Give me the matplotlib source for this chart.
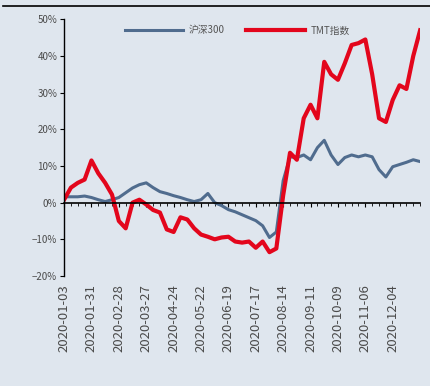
import numpy as np
import matplotlib
matplotlib.use("Agg")
import matplotlib.pyplot as plt
from matplotlib.lines import Line2D
from matplotlib.ticker import FixedLocator, MultipleLocator, PercentFormatter

plt.rcParams["font.family"] = ["Noto Sans CJK SC", "DejaVu Sans"]

# weekly cumulative returns, %
hs300 = [1.6, 1.6, 1.6, 1.8, 1.4, 0.8, 0.3, 0.8, 1.4, 2.7,
         4.0, 4.9, 5.4, 4.1, 3.0, 2.5, 1.9, 1.4, 0.8, 0.3,
         0.8, 2.5, 0.0, -0.8, -1.9, -2.5, -3.3, -4.1, -4.9, -6.3,
         -9.5, -8.0, 6.0, 12.5, 12.3, 13.0, 11.7, 15.0, 17.0, 13.0,
         10.4, 12.3, 13.0, 12.5, 13.0, 12.5, 9.0, 7.0, 9.8, 10.4,
         11.0, 11.7, 11.2]
tmt = [0.8, 4.1, 5.4, 6.3, 11.5, 8.0, 5.4, 2.2, -5.0, -7.0,
       0.0, 0.8, -0.5, -2.0, -2.7, -7.3, -8.0, -4.0, -4.6, -7.0,
       -8.7, -9.3, -10.0, -9.5, -9.3, -10.6, -10.9, -10.6, -12.3, -10.6,
       -13.5, -12.5, 2.0, 13.6, 11.7, 23.0, 26.7, 23.0, 38.4, 35.0,
       33.5, 38.0, 43.0, 43.5, 44.5, 35.0, 23.0, 22.0, 28.0, 32.0,
       31.0, 40.0, 47.0]
tick_labels = ["2020-01-03", "2020-01-31", "2020-02-28", "2020-03-27",
               "2020-04-24", "2020-05-22", "2020-06-19", "2020-07-17",
               "2020-08-14", "2020-09-11", "2020-10-09", "2020-11-06",
               "2020-12-04"]

bg = "#dfe6ee"
fig = plt.figure(figsize=(4.30, 3.86), dpi=100, facecolor=bg)
ax = fig.add_axes([0.149, 0.285, 0.828, 0.665], facecolor=bg)

x = np.arange(len(tmt))
ax.plot(x, hs300, color="#506c8e", lw=2.2, label="沪深300")
ax.plot(x, tmt, color="#e3061c", lw=3.0, label="TMT指数")

ax.set_xlim(0, len(tmt) - 1)
ax.set_ylim(-20, 50)

ax.spines["top"].set_visible(False)
ax.spines["right"].set_visible(False)
ax.spines["bottom"].set_position(("data", 0))
ax.spines["bottom"].set_linewidth(1.2)
ax.spines["left"].set_linewidth(1.0)

ax.yaxis.set_major_locator(MultipleLocator(10))
ax.yaxis.set_major_formatter(PercentFormatter(decimals=0))
ax.tick_params(axis="y", direction="out", length=3, labelsize=7,
               labelcolor="#4a4a4a", pad=2)

# one label every four weeks
ax.xaxis.set_major_locator(FixedLocator(x[:len(tick_labels) * 4:4]))
ax.xaxis.set_minor_locator(FixedLocator(x))
ax.set_xticklabels(tick_labels, rotation=90, va="top", ha="center")
ax.tick_params(axis="x", which="major", direction="out", length=3,
               labelsize=9.5, labelcolor="#4a4a4a", pad=56)
ax.tick_params(axis="x", which="minor", direction="out", length=2)

ax.legend(loc="upper center", bbox_to_anchor=(0.486, 1.01), ncol=2,
          frameon=False, fontsize=7, labelcolor="#555555",
          handlelength=6, columnspacing=2.2, handletextpad=0.6)

fig.add_artist(Line2D([0.007, 1.0], [0.985, 0.985], color="black", lw=1.2,
                      transform=fig.transFigure))

fig.savefig("out.png", dpi=100, facecolor=bg)
